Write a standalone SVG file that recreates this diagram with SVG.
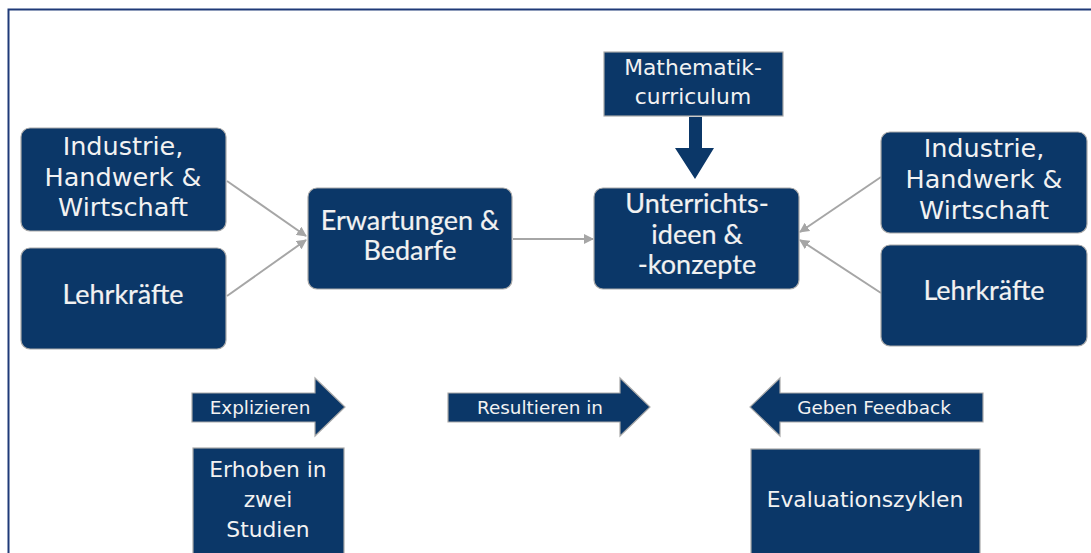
<svg xmlns="http://www.w3.org/2000/svg" width="1091" height="553" viewBox="0 0 1091 553">
<defs>
<style>
.box{fill:#0b3768;stroke:#a9a9a9;stroke-width:1.2}
.t1{font-family:"DejaVu Sans","Open Sans",sans-serif;font-size:25.5px;fill:#f2f2f2;text-anchor:middle}
.t2{font-family:Lato,"Liberation Sans",sans-serif;font-size:27px;fill:#f2f2f2;text-anchor:middle;stroke:#f2f2f2;stroke-width:0.2}
.t3{font-family:"DejaVu Sans","Open Sans",sans-serif;font-size:21.8px;fill:#f2f2f2;text-anchor:middle}
.t4{font-family:"DejaVu Sans","Open Sans",sans-serif;font-size:18.4px;fill:#f2f2f2;text-anchor:middle}
.con{stroke:#a6a6a6;stroke-width:2;fill:none;marker-end:url(#ah)}
</style>
<marker id="ah" viewBox="0 0 10 10" refX="9" refY="5" markerWidth="5" markerHeight="5" orient="auto" markerUnits="strokeWidth">
<path d="M0,0 L10,5 L0,10 Z" fill="#a6a6a6"/>
</marker>
</defs>
<rect x="0" y="0" width="1091" height="553" fill="#ffffff"/>
<rect x="8.5" y="9.5" width="1100" height="560" fill="none" stroke="#1f3a78" stroke-width="2"/>

<g id="connectors">
<line class="con" x1="227" y1="181" x2="306" y2="236"/>
<line class="con" x1="227" y1="296" x2="306" y2="240"/>
<line class="con" x1="513" y1="239" x2="593" y2="239"/>
<line class="con" x1="881" y1="177" x2="800" y2="232"/>
<line class="con" x1="881" y1="293" x2="800" y2="240"/>
<path d="M689,117 L702,117 L702,148 L714,148 L695,179 L675,148 L689,148 Z" fill="#0b3768"/>
</g>

<g id="industrie-left">
<rect class="box" x="21" y="128" width="205" height="103" rx="9"/>
<text class="t1" x="123" y="155">Industrie,</text>
<text class="t1" x="123" y="186">Handwerk &amp;</text>
<text class="t1" x="123" y="216">Wirtschaft</text>
</g>
<g id="lehrkraefte-left">
<rect class="box" x="21" y="248" width="205" height="101" rx="9"/>
<text class="t2" x="123" y="304">Lehrkräfte</text>
</g>
<g id="erwartungen">
<rect class="box" x="308" y="188" width="204" height="101" rx="9"/>
<text class="t2" x="410" y="230">Erwartungen &amp;</text>
<text class="t2" x="410" y="260">Bedarfe</text>
</g>
<g id="unterricht">
<rect class="box" x="594" y="188" width="205" height="101" rx="9"/>
<text class="t2" x="697" y="213">Unterrichts-</text>
<text class="t2" x="697" y="244">ideen &amp;</text>
<text class="t2" x="697" y="274">-konzepte</text>
</g>
<g id="mathematik">
<rect class="box" x="604" y="52" width="179" height="64"/>
<text class="t3" x="693" y="75">Mathematik-</text>
<text class="t3" x="693" y="104">curriculum</text>
</g>
<g id="industrie-right">
<rect class="box" x="881" y="132" width="206" height="101" rx="9"/>
<text class="t1" x="984" y="157">Industrie,</text>
<text class="t1" x="984" y="188">Handwerk &amp;</text>
<text class="t1" x="984" y="219">Wirtschaft</text>
</g>
<g id="lehrkraefte-right">
<rect class="box" x="881" y="245" width="206" height="101" rx="9"/>
<text class="t2" x="984" y="300">Lehrkräfte</text>
</g>

<g id="explizieren">
<path class="box" d="M192,393 L315,393 L315,378 L345,407 L315,436 L315,422 L192,422 Z"/>
<text class="t4" x="260" y="414">Explizieren</text>
</g>
<g id="resultieren">
<path class="box" d="M448,393 L620,393 L620,378 L650,407 L620,436 L620,422 L448,422 Z"/>
<text class="t4" x="540" y="414">Resultieren in</text>
</g>
<g id="feedback">
<path class="box" d="M983,393 L780,393 L780,378 L750,407 L780,436 L780,422 L983,422 Z"/>
<text class="t4" x="874" y="414">Geben Feedback</text>
</g>
<g id="erhoben">
<rect class="box" x="193" y="448" width="151" height="120"/>
<text class="t3" x="268" y="477">Erhoben in</text>
<text class="t3" x="268" y="507">zwei</text>
<text class="t3" x="268" y="537">Studien</text>
</g>
<g id="evaluation">
<rect class="box" x="751" y="449" width="229" height="120"/>
<text class="t3" x="865" y="507">Evaluationszyklen</text>
</g>
</svg>
